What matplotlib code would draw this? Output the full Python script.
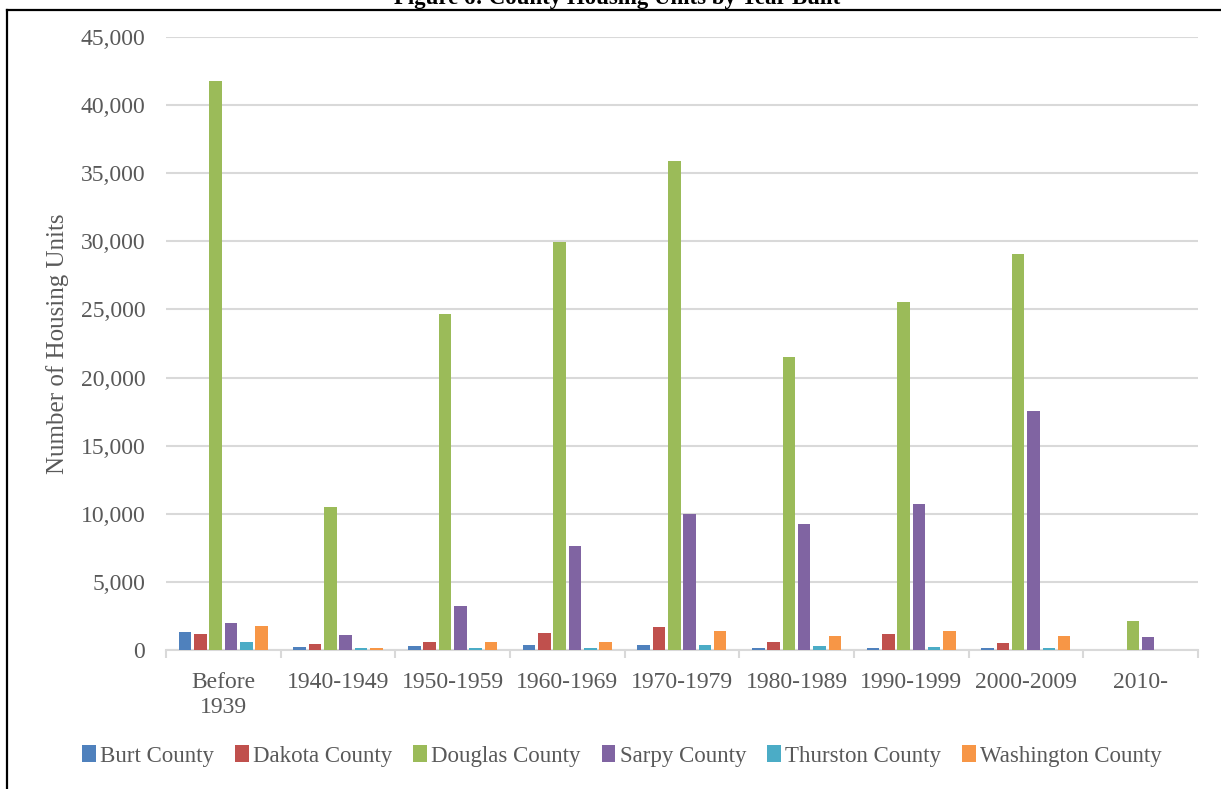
import numpy as np
import matplotlib
matplotlib.use("Agg")
import matplotlib.pyplot as plt
from matplotlib.lines import Line2D
from matplotlib.ticker import FuncFormatter, FixedLocator

# Datos
periodos = ["Before\n1939", "1940-1949", "1950-1959", "1960-1969", "1970-1979",
            "1980-1989", "1990-1999", "2000-2009", "2010-"]
condados = ["Burt County", "Dakota County", "Douglas County", "Sarpy County",
            "Thurston County", "Washington County"]

burt = [1340, 200, 290, 380, 400, 150, 175, 175, 0]
dakota = [1190, 410, 610, 1220, 1660, 580, 1190, 520, 0]
douglas = [41800, 10470, 24650, 29940, 35870, 21540, 25520, 29040, 2150]
sarpy = [1980, 1130, 3260, 7650, 10000, 9220, 10730, 17560, 930]
thurston = [580, 115, 145, 145, 400, 260, 200, 145, 0]
washington = [1740, 145, 550, 580, 1420, 990, 1420, 1050, 30]

series = [burt, dakota, douglas, sarpy, thurston, washington]
colores = ["#4F81BD", "#C0504D", "#9BBB59", "#8064A2", "#4BACC6", "#F79646"]

texto = "#595959"
gris = "#D9D9D9"
fuente = "Liberation Serif"
plt.rcParams["font.family"] = fuente

fig = plt.figure(figsize=(12.21, 7.89), dpi=100)
ax = fig.add_axes([0.136, 0.1762, 0.845, 0.7769])

x = np.arange(len(periodos))
paso = 0.1335
for k, (valores, color, nombre) in enumerate(zip(series, colores, condados)):
    ax.bar(x + (k - 2.5) * paso, valores, width=paso * 0.82, color=color,
           linewidth=0, label=nombre, zorder=3)

ax.set_xlim(-0.5, len(periodos) - 0.5)
ax.set_ylim(0, 45000)
ax.set_yticks(np.arange(0, 45001, 5000))
ax.yaxis.set_major_formatter(FuncFormatter(lambda v, p: f"{int(v):,}"))
ax.grid(axis="y", color=gris, linewidth=1.5, zorder=0)
ax.set_axisbelow(True)

for lado in ["left", "right", "top"]:
    ax.spines[lado].set_visible(False)
ax.spines["bottom"].set_color(gris)
ax.spines["bottom"].set_linewidth(1.5)

ax.set_xticks(x)
ax.set_xticklabels(periodos)
ax.xaxis.set_minor_locator(FixedLocator(np.arange(-0.5, len(periodos), 1.0)))
ax.tick_params(axis="x", which="major", length=0, pad=16, labelsize=17, labelcolor=texto)
ax.tick_params(axis="x", which="minor", length=6, width=1.5, color=gris)
ax.tick_params(axis="y", length=0, pad=15, labelsize=17, labelcolor=texto)
for etiqueta in ax.get_xticklabels():
    etiqueta.set_linespacing(1.25)

ax.set_ylabel("Number of Housing Units", fontsize=18, color=texto)
ax.yaxis.set_label_coords(-0.094, 0.5)

ax.legend(loc="center", bbox_to_anchor=(622 / 1221, 1 - 756 / 789),
          bbox_transform=fig.transFigure, ncol=6, frameon=False,
          fontsize=16.5, labelcolor=texto, handlelength=0.6, handleheight=0.75,
          handletextpad=0.2, columnspacing=0.9)

# Título recortado y marco
fig.text(617 / 1221, 1 - 4 / 789, "Figure 6: County Housing Units by Year Built",
         ha="center", va="baseline", fontsize=16.5, fontweight="bold", color="black")
fig.add_artist(Line2D([7.5 / 1221, 1.0], [1 - 10 / 789, 1 - 10 / 789],
                      transform=fig.transFigure, color="black", linewidth=1.6))
fig.add_artist(Line2D([7.5 / 1221, 7.5 / 1221], [1 - 10 / 789, 0.0],
                      transform=fig.transFigure, color="black", linewidth=1.6))

fig.savefig("out.png", dpi=100)
